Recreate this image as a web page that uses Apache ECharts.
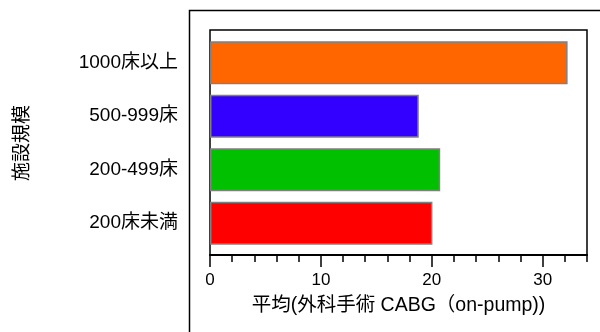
<!DOCTYPE html>
<html>
<head>
<meta charset="utf-8">
<script src="https://cdn.jsdelivr.net/npm/echarts@6/dist/echarts.min.js"></script>
<style>
  html, body { margin: 0; padding: 0; background: #fff; }
  #chart { width: 600px; height: 332px; }
</style>
</head>
<body>
<div id="chart"></div>
<script>
// カテゴリ（下から上）
var categories = ['200床未満', '200-499床', '500-999床', '1000床以上'];
var values = [20.06, 20.76, 18.83, 32.25];
var barColors = ['#FF0000', '#00C000', '#3300FF', '#FF6600'];
var majorTicks = [0, 10, 20, 30];
var minorTicks = [0, 2, 4, 6, 8, 10, 12, 14, 16, 18, 20, 22, 24, 26, 28, 30, 32, 34];

var font = '"Liberation Sans", "Noto Sans CJK JP", sans-serif';

var chart = echarts.init(document.getElementById('chart'));
chart.setOption({
    animation: false,
    backgroundColor: '#fff',
    graphic: [{
        type: 'rect',
        shape: { x: 189.5, y: 10.5, width: 430, height: 340 },
        style: { fill: 'none', stroke: '#000', lineWidth: 1.5 },
        silent: true
    }],
    grid: [
        // 棒グラフ用
        { left: 210, top: 36, right: 13, bottom: 82, outerBoundsMode: 'none' },
        // 枠と目盛り用
        { left: 210, top: 30, right: 13, bottom: 77, outerBoundsMode: 'none', show: true, borderColor: '#000', borderWidth: 1.5 }
    ],
    xAxis: [{
        type: 'value',
        gridIndex: 0,
        min: 0, max: 34,
        show: false
    }, {
        type: 'value',
        gridIndex: 1,
        min: 0, max: 34,
        name: '平均(外科手術 CABG（on-pump))',
        nameLocation: 'middle',
        nameGap: 41,
        nameTextStyle: { color: '#000', fontSize: 19.5, fontFamily: font },
        axisLine: { show: true, lineStyle: { color: '#000', width: 2 } },
        axisTick: { show: true, customValues: majorTicks, length: 12, lineStyle: { color: '#000', width: 1.5 } },
        axisLabel: { customValues: majorTicks, color: '#000', fontSize: 17, fontFamily: font, margin: 17 },
        splitLine: { show: false }
    }, {
        type: 'value',
        gridIndex: 1,
        position: 'bottom',
        min: 0, max: 34,
        axisLine: { show: false },
        axisTick: { show: true, customValues: minorTicks, length: 7, lineStyle: { color: '#000', width: 1.5 } },
        axisLabel: { show: false },
        splitLine: { show: false }
    }],
    yAxis: [{
        type: 'category',
        gridIndex: 0,
        data: categories,
        name: '施設規模',
        nameLocation: 'middle',
        nameRotate: 90,
        nameGap: 178,
        nameTextStyle: { color: '#000', fontSize: 19, fontFamily: font },
        axisLine: { show: false },
        axisTick: { show: false },
        axisLabel: { color: '#000', fontSize: 19, fontFamily: font, margin: 32 }
    }, {
        type: 'value',
        gridIndex: 1,
        show: false
    }],
    series: [{
        type: 'bar',
        xAxisIndex: 0,
        yAxisIndex: 0,
        barCategoryGap: '20%',
        data: values.map(function (v, i) {
            return { value: v, itemStyle: { color: barColors[i] } };
        }),
        itemStyle: { borderColor: '#808080', borderWidth: 1.5 }
    }]
});
</script>
</body>
</html>
